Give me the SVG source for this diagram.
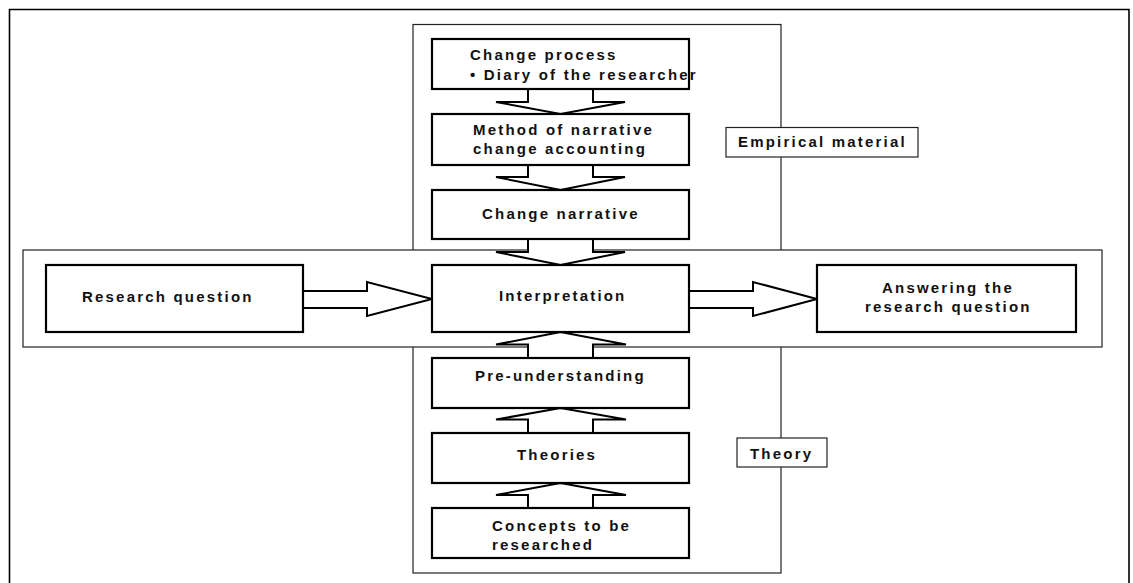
<svg xmlns="http://www.w3.org/2000/svg" width="1133" height="583" viewBox="0 0 1133 583">
<style>
.frame{fill:none;stroke:#000;stroke-width:1.6}
.thin{fill:#fff;stroke:#222;stroke-width:1.2}
.node{fill:#fff;stroke:#000;stroke-width:2.2}
.arrow{fill:#fff;stroke:#000;stroke-width:2;stroke-linejoin:miter}
text{font-family:"Liberation Sans",Arial,sans-serif;font-weight:bold;font-size:15px;letter-spacing:2.2px;fill:#111}
</style>
<rect width="1133" height="583" fill="#fff"/>
<path class="frame" d="M9.5,590 V9.5 H1129 V590"/>
<g id="empirical-theory-frame"><rect class="thin" x="413" y="24.5" width="368" height="548.5"/></g>
<g id="band"><rect class="thin" x="23" y="250" width="1079" height="97"/></g>
<g id="label-empirical"><rect class="thin" x="726" y="127.5" width="192" height="29.5"/><text x="738" y="147">Empirical material</text></g>
<g id="label-theory"><rect class="thin" x="737" y="438" width="90" height="29"/><text x="750" y="459">Theory</text></g>
<g id="connectors">
<polygon class="arrow" points="528,89 528,102 496,102 560.5,114 625,102 593,102 593,89"/>
<polygon class="arrow" points="528,165 528,177 496,177 560.5,190 625,177 593,177 593,165"/>
<polygon class="arrow" points="528,239 528,252 496,252 560.5,265 625,252 593,252 593,239"/>
<polygon class="arrow" points="528,358 528,344.5 496,344.5 560.5,332 626,344.5 593,344.5 593,358"/>
<polygon class="arrow" points="528,433 528,419.5 496,419.5 560.5,408 626,419.5 593,419.5 593,433"/>
<polygon class="arrow" points="528,508 528,495 496,495 560.5,483 626,495 593,495 593,508"/>
<polygon class="arrow" points="303,291 367,291 367,282 432,299 367,316 367,308 303,308"/>
<polygon class="arrow" points="689,291 753,291 753,282 817,299 753,316 753,308 689,308"/>
</g>
<g id="change-process"><rect class="node" x="432" y="39" width="257" height="50"/><text x="470" y="60">Change process</text><text x="470" y="80">• Diary of the researcher</text></g>
<g id="method"><rect class="node" x="432" y="114" width="257" height="51"/><text x="473" y="135">Method of narrative</text><text x="473" y="154">change accounting</text></g>
<g id="change-narrative"><rect class="node" x="432" y="190" width="257" height="49"/><text x="482" y="219">Change narrative</text></g>
<g id="interpretation"><rect class="node" x="432" y="265" width="257" height="67"/><text x="499" y="301">Interpretation</text></g>
<g id="research-question"><rect class="node" x="46" y="265" width="257" height="67"/><text x="82" y="302">Research question</text></g>
<g id="answering"><rect class="node" x="817" y="265" width="259" height="67"/><text x="882" y="293">Answering the</text><text x="865" y="312">research question</text></g>
<g id="pre-understanding"><rect class="node" x="432" y="358" width="257" height="50"/><text x="475" y="381">Pre-understanding</text></g>
<g id="theories"><rect class="node" x="432" y="433" width="257" height="50"/><text x="517" y="460">Theories</text></g>
<g id="concepts"><rect class="node" x="432" y="508" width="257" height="50"/><text x="492" y="531">Concepts to be</text><text x="492" y="550">researched</text></g>
</svg>
